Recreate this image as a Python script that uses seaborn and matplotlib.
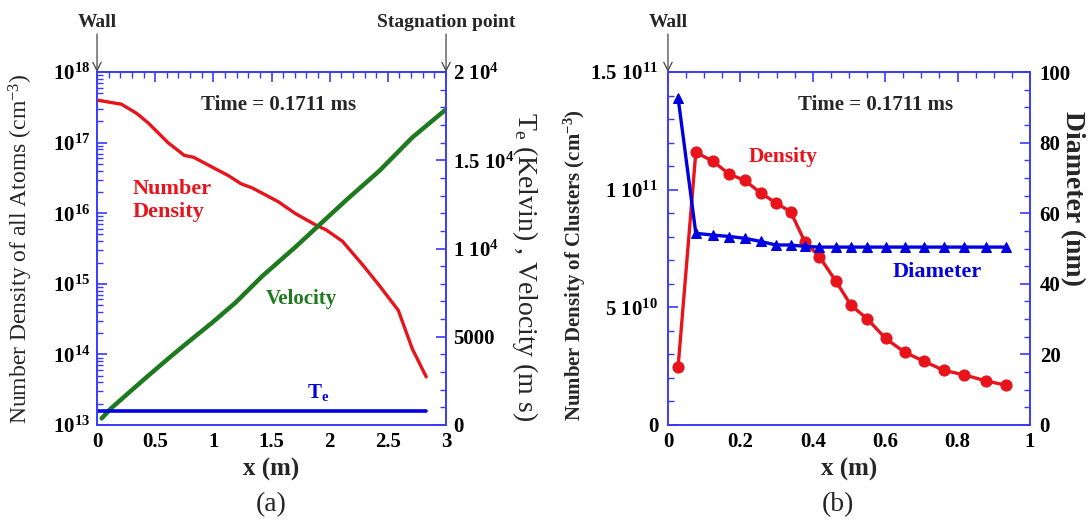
import matplotlib
matplotlib.use("Agg")
import matplotlib.pyplot as plt
import seaborn as sns
from matplotlib.ticker import MultipleLocator, FixedLocator, FixedFormatter, FuncFormatter

# ---------------- data: panel (a) ----------------
nd_x = [0.0, 0.21, 0.34, 0.44, 0.61, 0.75, 0.83, 0.99, 1.13, 1.24, 1.33,
        1.56, 1.70, 1.88, 1.97, 2.11, 2.29, 2.43, 2.59, 2.71, 2.83]
nd_val = [4.0e17, 3.5e17, 2.6e17, 1.9e17, 1.0e17, 6.6e16, 6.2e16, 4.5e16,
          3.4e16, 2.6e16, 2.3e16, 1.45e16, 1.0e16, 6.8e15, 5.8e15, 4.0e15,
          1.8e15, 9.3e14, 4.2e14, 1.2e14, 4.8e13]
vel_x = [0.04, 0.12, 0.41, 0.61, 0.78, 0.99, 1.19, 1.42, 1.71, 1.91, 2.14,
         2.43, 2.71, 2.99]
vel_val = [375, 940, 2620, 3750, 4680, 5800, 6930, 8430, 10110, 11330,
           12730, 14420, 16290, 17830]
te_x = [0.0, 2.83]
te_val = [790, 790]
a_right_ticks = [0, 5000, 10000, 15000, 20000]
a_right_labels = ["0", "5000", r"$\mathdefault{1\ 10^{4}}$",
                  r"$\mathdefault{1.5\ 10^{4}}$", r"$\mathdefault{2\ 10^{4}}$"]

# ---------------- data: panel (b) ----------------
cl_x = [0.028, 0.077, 0.125, 0.170, 0.212, 0.256, 0.298, 0.339, 0.378, 0.418,
        0.464, 0.506, 0.550, 0.601, 0.654, 0.706, 0.762, 0.819, 0.879, 0.935]
cl_density = [2.46e10, 1.159e11, 1.12e11, 1.065e11, 1.04e11, 0.986e11,
              0.944e11, 0.906e11, 0.779e11, 0.716e11, 0.611e11, 0.508e11,
              0.452e11, 0.368e11, 0.309e11, 0.272e11, 0.232e11, 0.213e11,
              0.187e11, 0.169e11]
cl_diameter = [92.7, 54.3, 53.8, 53.4, 52.9, 52.0, 51.0, 51.0, 50.6, 50.4,
               50.4, 50.4, 50.4, 50.4, 50.4, 50.4, 50.4, 50.4, 50.4, 50.4]
b_left_ticks = [0, 5e10, 1e11, 1.5e11]
b_left_labels = ["0", r"$\mathdefault{5\ 10^{10}}$",
                 r"$\mathdefault{1\ 10^{11}}$", r"$\mathdefault{1.5\ 10^{11}}$"]

# ---------------- style ----------------
sns.set_style("white")
plt.rcParams["font.family"] = ["Liberation Serif", "DejaVu Serif"]
plt.rcParams["font.weight"] = "bold"
plt.rcParams["axes.labelweight"] = "bold"
plt.rcParams["mathtext.fontset"] = "custom"
plt.rcParams["mathtext.rm"] = "Liberation Serif"
plt.rcParams["mathtext.bf"] = "Liberation Serif:bold"
plt.rcParams["mathtext.it"] = "Liberation Serif:italic"

RED = "#e8141c"
GREEN = "#1e7a1e"
BLUE = "#0000e0"
SPINE = "#3a3aff"
TICKFS = 15

fig = plt.figure(figsize=(10.9, 5.2), dpi=100)
axA = fig.add_axes([0.0890, 0.1827, 0.3202, 0.6788])
axB = fig.add_axes([0.6128, 0.1827, 0.3321, 0.6788])
axA2 = axA.twinx()
axB2 = axB.twinx()

gfmt = FuncFormatter(lambda v, p: f"{v:g}")


def style_axes(ax):
    for s in ax.spines.values():
        s.set_color(SPINE)
        s.set_linewidth(1.2)
        s.set_visible(True)
    ax.tick_params(axis="both", which="both", direction="in", color=SPINE,
                   labelsize=TICKFS, labelcolor="black")
    ax.tick_params(which="major", length=7, width=1.2, pad=5)
    ax.tick_params(which="minor", length=4, width=1.0)


# ---------------- panel (a) ----------------
axA.set_yscale("log")
sns.lineplot(x=nd_x, y=nd_val, ax=axA, color=RED, linewidth=2.4, sort=False)
sns.lineplot(x=vel_x, y=vel_val, ax=axA2, color=GREEN, linewidth=3.2, sort=False)
sns.lineplot(x=te_x, y=te_val, ax=axA2, color=BLUE, linewidth=2.6, sort=False)
axA.set_xlim(0, 3)
axA.set_ylim(1e13, 1e18)
axA2.set_ylim(0, 20000)
for ax in (axA, axA2):
    style_axes(ax)
axA.xaxis.set_major_locator(MultipleLocator(0.5))
axA.xaxis.set_minor_locator(MultipleLocator(0.1))
axA.xaxis.set_major_formatter(gfmt)
axA.tick_params(axis="x", which="both", top=True)
axA.tick_params(axis="y", which="both", right=False)
axA2.yaxis.set_major_locator(FixedLocator(a_right_ticks))
axA2.yaxis.set_major_formatter(FixedFormatter(a_right_labels))
axA2.yaxis.set_minor_locator(MultipleLocator(1000))
axA2.tick_params(axis="y", which="major", pad=5)

axA.set_xlabel("x (m)", fontsize=18, fontweight="bold", labelpad=4)
axA.set_ylabel(r"Number Density of all Atoms (cm$^{\mathdefault{-3}}$)",
               fontsize=17, fontweight="normal")
axA.yaxis.set_label_coords(-0.178, 0.5)
axA2.set_ylabel(r"T$_{\mathdefault{e}}$ (Kelvin) , Velocity (m s)",
                fontsize=20, fontweight="normal", rotation=270, va="center")
axA2.yaxis.set_label_coords(1.225, 0.45)

axA.text(0.521, 0.906, "Time = 0.1711 ms", transform=axA.transAxes,
         ha="center", va="center", fontsize=15, fontweight="bold")
axA.text(0.103, 0.637, "Number\nDensity", transform=axA.transAxes,
         ha="left", va="center", fontsize=16, fontweight="bold", color=RED,
         linespacing=1.2)
axA.text(0.585, 0.357, "Velocity", transform=axA.transAxes,
         ha="center", va="center", fontsize=15, fontweight="bold", color=GREEN)
axA.text(0.633, 0.091, r"T$_{\mathdefault{e}}$", transform=axA.transAxes,
         ha="center", va="center", fontsize=15, fontweight="bold", color=BLUE)

arrow = dict(arrowstyle="->,head_length=0.6,head_width=0.3", color="#444444",
             lw=0.9, shrinkA=0, shrinkB=0)
for ax, xf, txt in ((axA, 0.0, "Wall"), (axA, 1.0, "Stagnation point"),
                    (axB, 0.0, "Wall")):
    ax.annotate("", xy=(xf, 1), xycoords="axes fraction", xytext=(0, 38),
                textcoords="offset pixels", arrowprops=arrow)
    ax.annotate(txt, xy=(xf, 1), xycoords="axes fraction", xytext=(0, 50),
                textcoords="offset pixels", ha="center", va="center",
                fontsize=14, fontweight="bold")

# ---------------- panel (b) ----------------
sns.lineplot(x=cl_x, y=cl_density, ax=axB, color=RED, linewidth=2.4,
             marker="o", markersize=8, markeredgecolor=RED, sort=False)
sns.lineplot(x=cl_x, y=cl_diameter, ax=axB2, color=BLUE, linewidth=2.4,
             marker="^", markersize=7, markeredgecolor=BLUE, sort=False)
axB.set_xlim(0, 1)
axB.set_ylim(0, 1.5e11)
axB2.set_ylim(0, 100)
for ax in (axB, axB2):
    style_axes(ax)
axB.xaxis.set_major_locator(MultipleLocator(0.2))
axB.xaxis.set_minor_locator(MultipleLocator(0.05))
axB.xaxis.set_major_formatter(gfmt)
axB.tick_params(axis="x", which="both", top=True)
axB.tick_params(axis="y", which="both", right=False)
axB.tick_params(axis="y", which="major", pad=7)
axB.yaxis.set_major_locator(FixedLocator(b_left_ticks))
axB.yaxis.set_major_formatter(FixedFormatter(b_left_labels))
axB.yaxis.set_minor_locator(MultipleLocator(1e10))
axB2.yaxis.set_major_locator(MultipleLocator(20))
axB2.yaxis.set_minor_locator(MultipleLocator(5))
axB2.tick_params(axis="y", which="major", pad=7)

axB.set_xlabel("x (m)", fontsize=18, fontweight="bold", labelpad=4)
axB.set_ylabel(r"Number Density of Clusters (cm$^{\mathdefault{-3}}$)",
               fontsize=15, fontweight="bold")
axB.yaxis.set_label_coords(-0.221, 0.453)
axB2.set_ylabel("Diameter (nm)", fontsize=20, fontweight="bold",
                rotation=270, va="center")
axB2.yaxis.set_label_coords(1.118, 0.643)

axB.text(0.574, 0.906, "Time = 0.1711 ms", transform=axB.transAxes,
         ha="center", va="center", fontsize=15, fontweight="bold")
axB.text(0.318, 0.759, "Density", transform=axB.transAxes,
         ha="center", va="center", fontsize=15.5, fontweight="bold", color=RED)
axB.text(0.743, 0.433, "Diameter", transform=axB.transAxes,
         ha="center", va="center", fontsize=16, fontweight="bold", color=BLUE)

fig.text(271 / 1090, 1 - 505 / 520, "(a)", ha="center", va="center",
         fontsize=20, fontweight="normal")
fig.text(838 / 1090, 1 - 505 / 520, "(b)", ha="center", va="center",
         fontsize=20, fontweight="normal")

fig.savefig("out.png", dpi=100)
